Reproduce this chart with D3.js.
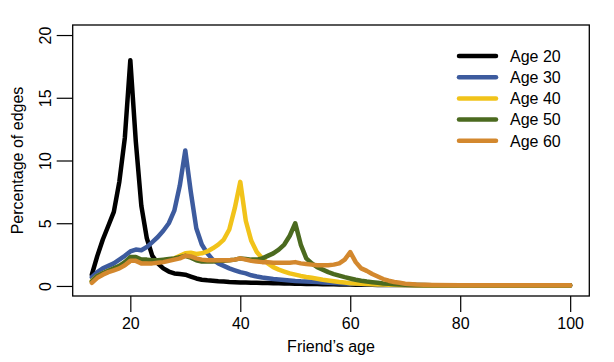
<!DOCTYPE html>
<html>
<head>
<meta charset="utf-8">
<script src="https://cdn.jsdelivr.net/npm/d3@7"></script>
<style>
  body { margin: 0; background: #fff; }
  text { font-family: "Liberation Sans", Arial, Helvetica, sans-serif; fill: #000; }
</style>
</head>
<body>
<div id="chart"></div>
<script>
// friend's age (x values shared by every series)
var ages = [13, 14, 15, 16, 17, 18, 19, 20, 21, 22, 23, 24, 25, 26, 27, 28, 29, 30,
    31, 32, 33, 34, 35, 36, 37, 38, 39, 40, 41, 42, 43, 44, 45, 46, 47, 48, 49, 50,
    51, 52, 53, 54, 55, 56, 57, 58, 59, 60, 61, 62, 63, 64, 65, 66, 67, 68, 69, 70,
    72, 75, 80, 85, 90, 95, 100];

var seriesNames = ["Age 20", "Age 30", "Age 40", "Age 50", "Age 60"];

var age20 = [0.9, 2.4, 3.7, 4.8, 5.9, 8.3, 11.8, 18.0, 11.5, 6.4, 3.8, 2.4, 1.8, 1.4, 1.15, 1.0, 0.95, 0.9,
    0.75, 0.6, 0.5, 0.45, 0.42, 0.38, 0.35, 0.32, 0.3, 0.28, 0.27, 0.26, 0.25, 0.24, 0.23, 0.22, 0.21, 0.2, 0.19, 0.18,
    0.17, 0.16, 0.15, 0.15, 0.14, 0.13, 0.13, 0.12, 0.12, 0.11, 0.1, 0.1, 0.09, 0.09, 0.08, 0.08, 0.08, 0.07, 0.07, 0.07,
    0.06, 0.05, 0.05, 0.04, 0.04, 0.04, 0.04];

var age30 = [0.7, 1.1, 1.4, 1.6, 1.8, 2.1, 2.4, 2.75, 2.9, 2.85, 3.1, 3.5, 3.9, 4.4, 5.0, 6.0, 8.0, 10.8,
    7.5, 4.6, 3.3, 2.6, 2.1, 1.8, 1.6, 1.4, 1.25, 1.1, 1.0, 0.85, 0.75, 0.68, 0.62, 0.56, 0.52, 0.48, 0.44, 0.4,
    0.37, 0.35, 0.33, 0.31, 0.28, 0.26, 0.24, 0.22, 0.2, 0.18, 0.17, 0.16, 0.14, 0.13, 0.12, 0.11, 0.1, 0.09, 0.09, 0.08,
    0.07, 0.05, 0.04, 0.03, 0.03, 0.03, 0.03];

var age40 = [0.4, 0.8, 1.0, 1.2, 1.35, 1.5, 1.7, 2.0, 2.1, 2.0, 1.95, 1.95, 2.0, 2.05, 2.1, 2.2, 2.4, 2.6,
    2.65, 2.55, 2.6, 2.75, 3.0, 3.3, 3.7, 4.5, 6.2, 8.3, 5.2, 3.6, 2.7, 2.2, 1.8, 1.5, 1.3, 1.15, 1.0, 0.9,
    0.8, 0.72, 0.65, 0.58, 0.5, 0.44, 0.38, 0.32, 0.27, 0.22, 0.2, 0.18, 0.16, 0.14, 0.12, 0.11, 0.1, 0.09, 0.08, 0.07,
    0.06, 0.04, 0.03, 0.03, 0.03, 0.03, 0.03];

var age50 = [0.35, 0.8, 1.0, 1.2, 1.4, 1.6, 1.9, 2.3, 2.3, 2.1, 2.1, 2.05, 2.05, 2.1, 2.15, 2.2, 2.3, 2.4,
    2.25, 2.05, 1.95, 1.95, 1.95, 2.0, 2.0, 2.05, 2.1, 2.2, 2.15, 2.1, 2.1, 2.2, 2.4, 2.6, 2.9, 3.3, 4.0, 5.0,
    3.3, 2.2, 1.8, 1.5, 1.3, 1.1, 0.95, 0.82, 0.7, 0.6, 0.5, 0.42, 0.35, 0.3, 0.25, 0.2, 0.17, 0.14, 0.12, 0.1,
    0.08, 0.06, 0.05, 0.05, 0.05, 0.05, 0.05];

var age60 = [0.25, 0.65, 0.9, 1.1, 1.25, 1.4, 1.65, 2.0, 2.0, 1.8, 1.8, 1.8, 1.85, 1.9, 2.0, 2.1, 2.2, 2.4,
    2.35, 2.2, 2.1, 2.05, 2.05, 2.05, 2.05, 2.05, 2.1, 2.2, 2.1, 2.0, 1.95, 1.9, 1.9, 1.85, 1.85, 1.85, 1.85, 1.9,
    1.8, 1.75, 1.7, 1.65, 1.65, 1.65, 1.7, 1.8, 2.1, 2.7, 1.9, 1.4, 1.2, 0.95, 0.75, 0.55, 0.42, 0.32, 0.25, 0.18,
    0.12, 0.08, 0.06, 0.05, 0.05, 0.05, 0.05];

var xTicks = [20, 40, 60, 80, 100];
var yTicks = [0, 5, 10, 15, 20];

var colors = ["#000000", "#3d5b9e", "#f1c31a", "#4b6a1f", "#d3882e"];

var svgWidth = 614;
var svgHeight = 362;

var margin = {
    top: 25,
    right: 24.7,
    bottom: 66,
    left: 72.7
};

var width = svgWidth - margin.left - margin.right;
var height = svgHeight - margin.top - margin.bottom;

var svg = d3.select("#chart")
    .append("svg")
    .attr("width", svgWidth)
    .attr("height", svgHeight)
    .style("background", "#fff");

var chartGroup = svg.append("g")
    .attr("transform", "translate(" + margin.left + "," + margin.top + ")");

// R style 4% padding: x data 13..100, y limits 0..20
var xScale = d3.scaleLinear()
    .domain([13 - 0.04 * 87, 100 + 0.04 * 87])
    .range([0, width]);

var yScale = d3.scaleLinear()
    .domain([-0.8, 20.8])
    .range([height, 0]);

// axes
var bottomAxis = d3.axisBottom(xScale).tickValues(xTicks).tickSize(16).tickPadding(6);
var leftAxis = d3.axisLeft(yScale).tickValues(yTicks).tickSize(16);

var xAxisG = chartGroup.append("g")
    .attr("transform", "translate(0," + height + ")")
    .call(bottomAxis);
xAxisG.select(".domain").remove();
xAxisG.selectAll("line").attr("stroke", "#000").attr("stroke-width", 1.2);
xAxisG.selectAll("text")
    .attr("font-size", 16)
    .attr("font-family", "Liberation Sans, Arial, sans-serif")
    .attr("fill", "#000");

var yAxisG = chartGroup.append("g")
    .call(leftAxis);
yAxisG.select(".domain").remove();
yAxisG.selectAll("line").attr("stroke", "#000").attr("stroke-width", 1.2);
yAxisG.selectAll("text")
    .attr("font-size", 16)
    .attr("font-family", "Liberation Sans, Arial, sans-serif")
    .attr("fill", "#000")
    .attr("text-anchor", "middle")
    .attr("dy", 0)
    .attr("x", 0)
    .attr("transform", function(d) {
        return "translate(-21.5,0) rotate(-90)";
    });

// lines
var line = d3.line()
    .x(function(d) { return xScale(d[0]); })
    .y(function(d) { return yScale(d[1]); });

var allSeries = [age20, age30, age40, age50, age60];

allSeries.forEach(function(values, i) {
    var pts = ages.map(function(a, j) { return [a, values[j]]; });
    chartGroup.append("path")
        .datum(pts)
        .attr("fill", "none")
        .attr("stroke", colors[i])
        .attr("stroke-width", 4.5)
        .attr("stroke-linejoin", "round")
        .attr("stroke-linecap", "round")
        .attr("d", line);
});

// box
chartGroup.append("rect")
    .attr("x", 0)
    .attr("y", 0)
    .attr("width", width)
    .attr("height", height)
    .attr("fill", "none")
    .attr("stroke", "#000")
    .attr("stroke-width", 1.3);

// axis titles
svg.append("text")
    .attr("x", margin.left + width / 2)
    .attr("y", 352)
    .attr("text-anchor", "middle")
    .attr("font-size", 16)
    .text("Friend\u2019s age");

svg.append("text")
    .attr("transform", "translate(23," + (margin.top + height / 2) + ") rotate(-90)")
    .attr("text-anchor", "middle")
    .attr("font-size", 16)
    .text("Percentage of edges");

// legend (no box)
var legend = svg.append("g")
    .attr("transform", "translate(459,56)");

seriesNames.forEach(function(name, i) {
    var row = legend.append("g").attr("transform", "translate(0," + (i * 21.2) + ")");
    row.append("line")
        .attr("x1", 0)
        .attr("x2", 37)
        .attr("y1", 0)
        .attr("y2", 0)
        .attr("stroke", colors[i])
        .attr("stroke-width", 4.5)
        .attr("stroke-linecap", "round");
    row.append("text")
        .attr("x", 51)
        .attr("y", 0)
        .attr("dy", "0.36em")
        .attr("font-size", 16)
        .text(name);
});
</script>
</body>
</html>
